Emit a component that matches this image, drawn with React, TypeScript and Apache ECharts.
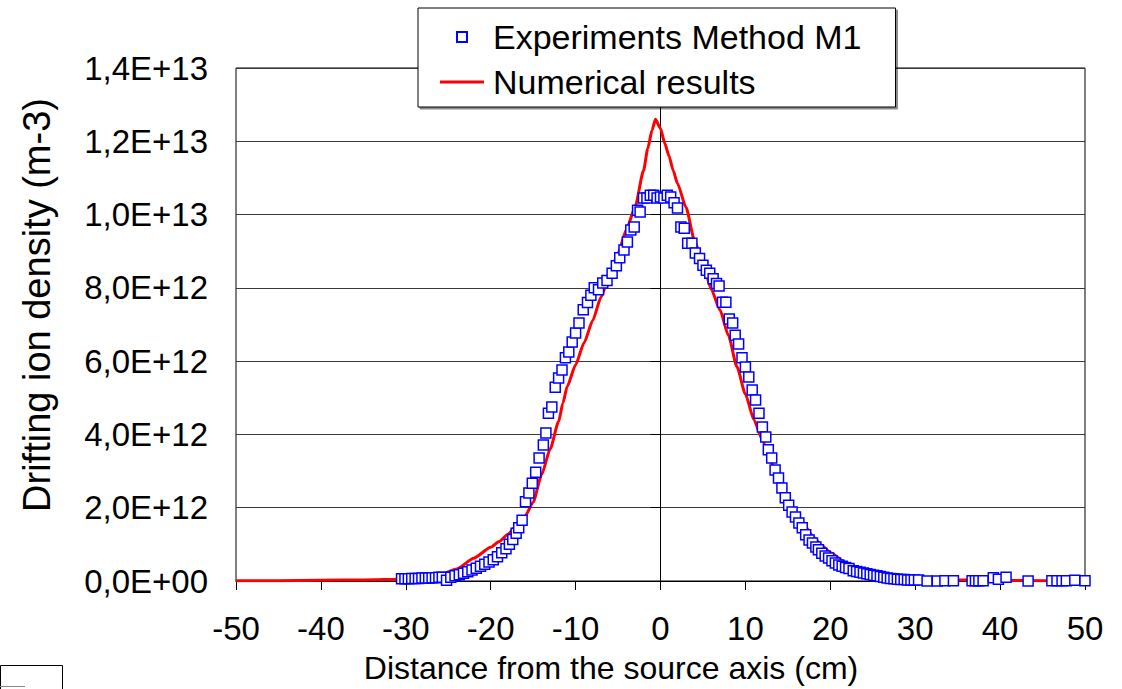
import React, { useEffect, useRef } from "react";
import * as echarts from "echarts";

// Numerical results (x in cm, density in units of 1E12 m-3)
const numX = [-50, -45, -40, -35, -30, -28, -26, -24, -22, -20, -19, -18, -17, -16, -15, -14, -13, -12, -11.5, -11, -10, -9, -8, -7, -6, -5, -4, -3, -2, -1.5, -1, -0.6, 0, 0.5, 1, 1.5, 2, 3, 4, 5, 6, 7, 8, 9, 10, 11, 12, 13, 14, 15, 16, 17, 18, 19, 20, 22, 24, 26, 28, 30, 35, 40, 45, 50];
const numY = [0.01, 0.01, 0.02, 0.03, 0.05, 0.09, 0.17, 0.33, 0.62, 0.92, 1.08, 1.27, 1.5, 1.75, 2.15, 2.9, 3.6, 4.35, 4.85, 5.3, 5.9, 6.5, 7.1, 7.75, 8.35, 8.95, 9.6, 10.2, 11.2, 11.8, 12.3, 12.6, 12.35, 11.95, 11.6, 11.2, 10.85, 10.2, 9.3, 8.65, 7.95, 7.4, 6.7, 5.85, 5.1, 4.4, 3.85, 3.25, 2.7, 2.25, 1.85, 1.5, 1.2, 0.97, 0.78, 0.47, 0.3, 0.2, 0.13, 0.06, 0.03, 0.02, 0.01, 0.01];

// Experiments Method M1 (x in cm, density in units of 1E12 m-3)
const expX = [-30.5, -30.1, -29.7, -29.3, -28.9, -28.5, -28.1, -27.7, -27.3, -26.9, -26.5, -26.1, -25.7, -25.2, -24.7, -24.2, -23.7, -23.2, -22.7, -22.2, -21.7, -21.2, -20.7, -20.2, -19.7, -19.2, -18.7, -18.2, -17.8, -17.4, -17.0, -16.7, -16.3, -15.9, -15.5, -15.1, -14.7, -14.3, -13.8, -13.5, -13.2, -12.8, -12.4, -12.0, -11.6, -11.2, -10.8, -10.4, -10.0, -9.6, -9.1, -8.6, -8.2, -7.8, -7.3, -6.8, -6.3, -5.7, -5.2, -4.8, -4.3, -3.9, -3.5, -3.1, -2.7, -2.4, -2.0, -1.6, -1.2, -0.8, -0.4, 0.0, 0.4, 0.8, 1.2, 1.6, 2.0, 2.4, 2.8, 3.2, 3.7, 4.1, 4.6, 5.0, 5.4, 5.8, 6.2, 6.6, 6.9, 7.3, 7.7, 8.1, 8.5, 8.8, 9.2, 9.6, 10.0, 10.4, 10.8, 11.2, 11.6, 12.0, 12.4, 12.7, 13.1, 13.5, 13.9, 14.3, 14.7, 15.1, 15.5, 15.9, 16.3, 16.7, 17.1, 17.5, 17.9, 18.3, 18.6, 19.0, 19.4, 19.8, 20.2, 20.6, 21.0, 21.4, 21.8, 22.2, 22.7, 23.1, 23.5, 23.9, 24.3, 24.7, 25.1, 25.5, 25.9, 26.3, 26.7, 27.1, 27.5, 27.9, 28.3, 28.7, 29.1, 29.5, 29.9, 30.4, 31.4, 32.6, 33.5, 34.5, 36.7, 37.1, 37.5, 38.0, 39.2, 39.8, 40.7, 43.3, 46.1, 46.7, 47.3, 47.8, 48.8, 50.0];
const expY = [0.06, 0.06, 0.06, 0.07, 0.07, 0.07, 0.08, 0.08, 0.08, 0.09, 0.09, 0.1, 0.1, 0.02, 0.1, 0.14, 0.17, 0.21, 0.25, 0.3, 0.35, 0.4, 0.46, 0.52, 0.58, 0.66, 0.77, 0.88, 1.0, 1.13, 1.3, 1.45, 1.66, 2.16, 2.4, 2.67, 2.97, 3.36, 3.71, 4.04, 4.58, 4.75, 5.29, 5.54, 5.76, 6.09, 6.25, 6.52, 6.77, 7.04, 7.4, 7.6, 7.8, 8.0, 7.95, 8.13, 8.2, 8.4, 8.6, 8.82, 9.03, 9.25, 9.58, 9.66, 10.12, 10.07, 10.45, 10.45, 10.53, 10.53, 10.45, 10.48, 10.45, 10.53, 10.48, 10.32, 10.18, 9.66, 9.63, 9.22, 9.22, 8.95, 8.8, 8.62, 8.48, 8.4, 8.25, 8.12, 8.05, 7.61, 7.61, 7.15, 7.04, 6.71, 6.47, 6.09, 5.84, 5.57, 5.21, 4.94, 4.58, 4.2, 3.93, 3.58, 3.36, 3.03, 2.81, 2.54, 2.27, 2.07, 1.88, 1.75, 1.58, 1.45, 1.26, 1.12, 1.04, 0.93, 0.85, 0.76, 0.68, 0.63, 0.55, 0.49, 0.44, 0.4, 0.37, 0.34, 0.28, 0.26, 0.24, 0.22, 0.2, 0.18, 0.16, 0.14, 0.12, 0.1, 0.08, 0.07, 0.06, 0.05, 0.04, 0.04, 0.03, 0.03, 0.03, 0.03, 0.0, 0.0, 0.01, 0.01, 0.01, 0.01, 0.01, 0.01, 0.09, 0.05, 0.1, 0.0, 0.01, 0.01, 0.01, 0.01, 0.02, 0.01];

const UNIT = 1e12;
const xTicks = { min: -50, max: 50, interval: 10 };
const yTicks = { min: 0, max: 14e12, interval: 2e12 };

const FONT = "'Liberation Sans', Arial, sans-serif";

function sci(v: number): string {
  if (v === 0) return "0,0E+00";
  const e = Math.floor(Math.log10(v) + 1e-9);
  const m = v / Math.pow(10, e);
  return m.toFixed(1).replace(".", ",") + "E+" + String(e).padStart(2, "0");
}

export default function App() {
  const ref = useRef<HTMLDivElement>(null);
  useEffect(() => {
    if (!ref.current) return;
    const chart = echarts.init(ref.current, undefined, { renderer: "svg" });
    const lineData = numX.map((x, i) => [x, numY[i] * UNIT]);
    const scatData = expX.map((x, i) => [x, expY[i] * UNIT]);
    chart.setOption({
      animation: false,
      backgroundColor: "#ffffff",
      textStyle: { fontFamily: FONT },
      grid: {
        left: 236,
        right: 37,
        top: 68,
        bottom: 108,
        show: true,
        borderColor: "#000",
        borderWidth: 1,
        backgroundColor: "transparent",
      },
      legend: {
        orient: "vertical",
        left: 418,
        top: 8,
        itemWidth: 44,
        itemHeight: 10,
        itemGap: 11,
        symbolKeepAspect: true,
        padding: [12, 34, 8, 22],
        backgroundColor: "#ffffff",
        borderColor: "#000",
        borderWidth: 1,
        shadowColor: "rgba(0,0,0,0.45)",
        shadowOffsetX: 2,
        shadowOffsetY: 2,
        shadowBlur: 0,
        textStyle: { fontSize: 34, fontFamily: FONT, color: "#000", padding: [0, 0, 0, 4] },
        data: [
          { name: "Experiments Method M1", icon: "path://M0,0H10V10H0Z" },
          { name: "Numerical results", icon: "path://M0,0H44V3H0Z" },
        ],
      },
      xAxis: {
        type: "value",
        min: xTicks.min,
        max: xTicks.max,
        interval: xTicks.interval,
        axisLine: { show: true, onZero: false, lineStyle: { color: "#000", width: 1 } },
        axisTick: { show: true, inside: false, length: 9, lineStyle: { color: "#000" } },
        axisLabel: { fontSize: 33, fontFamily: FONT, color: "#000", margin: 31 },
        splitLine: { show: false },
      },
      yAxis: {
        type: "value",
        min: yTicks.min,
        max: yTicks.max,
        interval: yTicks.interval,
        axisLine: { show: true, lineStyle: { color: "#000", width: 1 } },
        axisTick: { show: true, inside: false, length: 10, lineStyle: { color: "#000" } },
        axisLabel: { fontSize: 33, fontFamily: FONT, color: "#000", margin: 28, formatter: sci },
        splitLine: { show: true, lineStyle: { color: "#3a3a3a", width: 1 } },
      },
      graphic: [
        {
          type: "text",
          x: 611,
          y: 668,
          style: {
            text: "Distance from the source axis (cm)",
            font: "32px " + FONT,
            fill: "#000",
            textAlign: "center",
            textVerticalAlign: "middle",
          },
        },
        {
          type: "text",
          x: 37,
          y: 305,
          rotation: Math.PI / 2,
          style: {
            text: "Drifting ion density (m-3)",
            font: "38px " + FONT,
            fill: "#000",
            textAlign: "center",
            textVerticalAlign: "middle",
          },
        },
        {
          type: "rect",
          shape: { x: 0.5, y: 665.5, width: 62, height: 30 },
          style: { fill: "#fff", stroke: "#000", lineWidth: 1 },
        },
        {
          type: "line",
          shape: { x1: 0, y1: 686.5, x2: 25, y2: 686.5 },
          style: { stroke: "#888", lineWidth: 1 },
        },
      ],
      series: [
        {
          name: "Numerical results",
          type: "line",
          data: lineData,
          showSymbol: false,
          symbol: "none",
          smooth: 0.2,
          smoothMonotone: "x",
          lineStyle: { color: "#ff0000", width: 3 },
          itemStyle: { color: "#ff0000" },
          z: 2,
        },
        {
          name: "Experiments Method M1",
          type: "scatter",
          data: scatData,
          symbol: "rect",
          symbolSize: 10,
          itemStyle: { color: "#ffffff", borderColor: "#0000ff", borderWidth: 1.5, opacity: 1 },
          z: 3,
        },
      ],
    });
    return () => chart.dispose();
  }, []);
  return (
    <div
      ref={ref}
      style={{ position: "absolute", left: 0, top: 0, width: 1122, height: 689 }}
    />
  );
}
